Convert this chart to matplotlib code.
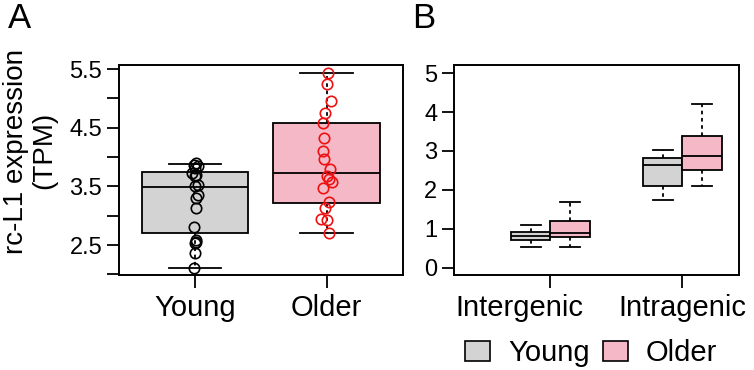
import numpy as np
import matplotlib.pyplot as plt
from matplotlib.patches import Patch
from matplotlib.transforms import ScaledTranslation

plt.rcParams["font.family"] = ["Liberation Sans", "DejaVu Sans"]

# ---- data ----
groups = ["Young", "Older"]
grey = "#d3d3d3"
pink = "#f5b8c7"

# panel A box stats
a_whislo = [2.11, 2.70]
a_q1 = [2.70, 3.22]
a_med = [3.49, 3.73]
a_q3 = [3.745, 4.585]
a_whishi = [3.89, 5.43]

young_pts = [3.90, 3.87, 3.84, 3.81, 3.725, 3.70, 3.67, 3.526, 3.50,
             3.355, 3.30, 3.13, 2.815, 2.59, 2.56, 2.53, 2.36, 2.116]
young_dx = [0.01, -0.01, 0.02, 0.0, -0.02, 0.01, 0.0, 0.02, 0.0,
            0.025, 0.005, 0.005, -0.005, 0.01, 0.005, 0.0, 0.0, -0.005]
older_pts = [5.43, 5.24, 4.95, 4.75, 4.58, 4.33, 4.11, 3.97, 3.79,
             3.68, 3.62, 3.57, 3.48, 3.23, 3.13, 2.95, 2.93, 2.71]
older_dx = [0.01, 0.0, 0.03, -0.01, -0.03, -0.02, -0.03, -0.02, 0.025,
            0.0, 0.02, 0.04, -0.025, 0.02, -0.01, -0.04, 0.0, 0.015]

# panel B box stats
regions = ["Intergenic", "Intragenic"]
b_young_whislo = [0.54, 1.73]
b_young_q1 = [0.715, 2.09]
b_young_med = [0.80, 2.64]
b_young_q3 = [0.904, 2.815]
b_young_whishi = [1.10, 3.03]
b_older_whislo = [0.54, 2.09]
b_older_q1 = [0.775, 2.515]
b_older_med = [0.90, 2.875]
b_older_q3 = [1.19, 3.39]
b_older_whishi = [1.675, 4.21]


def stats(lo, q1, med, q3, hi):
    return [dict(whislo=lo[i], q1=q1[i], med=med[i], q3=q3[i], whishi=hi[i], fliers=[])
            for i in range(len(lo))]


fig = plt.figure(figsize=(7.54, 3.70), dpi=100)
axA = fig.add_axes([0.1578, 0.2568, 0.3767, 0.5676])
axB = fig.add_axes([0.6021, 0.2568, 0.3784, 0.5676])

lw = 1.3
box_kw = dict(patch_artist=True, showfliers=False,
              whiskerprops=dict(linestyle=(0, (2, 2)), linewidth=lw, color="black"),
              capprops=dict(linewidth=lw, color="black"),
              medianprops=dict(linewidth=lw, color="black"))

# ---- panel A ----
bA = axA.bxp(stats(a_whislo, a_q1, a_med, a_q3, a_whishi), positions=[1, 2],
             widths=0.81, capwidths=0.4, **box_kw)
for patch, col in zip(bA["boxes"], [grey, pink]):
    patch.set_facecolor(col)
    patch.set_edgecolor("black")
    patch.set_linewidth(lw)

axA.plot(1 + np.array(young_dx), young_pts, "o", mfc="none", mec="black",
         ms=7.5, mew=1.2, zorder=5)
axA.plot(2 + np.array(older_dx), older_pts, "o", mfc="none", mec="#ee1111",
         ms=7.5, mew=1.2, zorder=5)

axA.set_xlim(0.423, 2.58)
axA.set_ylim(1.99, 5.57)
yt = np.arange(2.0, 5.51, 0.5)
axA.set_yticks(yt)
axA.set_yticklabels(["" if abs(v * 2 % 2 - 1) > 0.1 else f"{v:.1f}" for v in yt])
axA.set_xticks([1, 2])
axA.set_xticklabels(groups)

# ---- panel B ----
bY = axB.bxp(stats(b_young_whislo, b_young_q1, b_young_med, b_young_q3, b_young_whishi),
             positions=[0.85, 1.85], widths=0.30, capwidths=0.15, **box_kw)
bO = axB.bxp(stats(b_older_whislo, b_older_q1, b_older_med, b_older_q3, b_older_whishi),
             positions=[1.15, 2.15], widths=0.30, capwidths=0.15, **box_kw)
for bp, col in [(bY, grey), (bO, pink)]:
    for patch in bp["boxes"]:
        patch.set_facecolor(col)
        patch.set_edgecolor("black")
        patch.set_linewidth(lw)

axB.set_xlim(0.269, 2.431)
axB.set_ylim(-0.19, 5.21)
axB.set_yticks(range(6))
axB.set_xticks([1, 2])
axB.set_xticklabels(regions)

for ax in (axA, axB):
    for s in ax.spines.values():
        s.set_linewidth(1.4)
    ax.tick_params(direction="out", length=9, width=1.3, pad=3)
    ax.tick_params(axis="y", labelsize=17)
    ax.tick_params(axis="x", labelsize=21, pad=5)

lab = axB.get_xticklabels()[0]
lab.set_transform(lab.get_transform() + ScaledTranslation(-0.31, 0, fig.dpi_scale_trans))

fig.text(16 / 754, 1 - 152 / 370, "rc-L1 expression", rotation=90,
         ha="center", va="center", fontsize=20)
fig.text(44 / 754, 1 - 150 / 370, "(TPM)", rotation=90,
         ha="center", va="center", fontsize=20)

fig.text(0.010, 0.995, "A", fontsize=25, va="top", ha="left")
fig.text(0.546, 0.995, "B", fontsize=25, va="top", ha="left")

handles = [Patch(facecolor=grey, edgecolor="black", linewidth=1.2),
           Patch(facecolor=pink, edgecolor="black", linewidth=1.2)]
fig.legend(handles, groups, loc="center", bbox_to_anchor=(591 / 754, 1 - 353 / 370),
           ncol=2, frameon=False, fontsize=21, handlelength=0.86, handleheight=0.7,
           handletextpad=0.6, columnspacing=0.45, borderpad=0)

fig.savefig("out.png", dpi=100)
